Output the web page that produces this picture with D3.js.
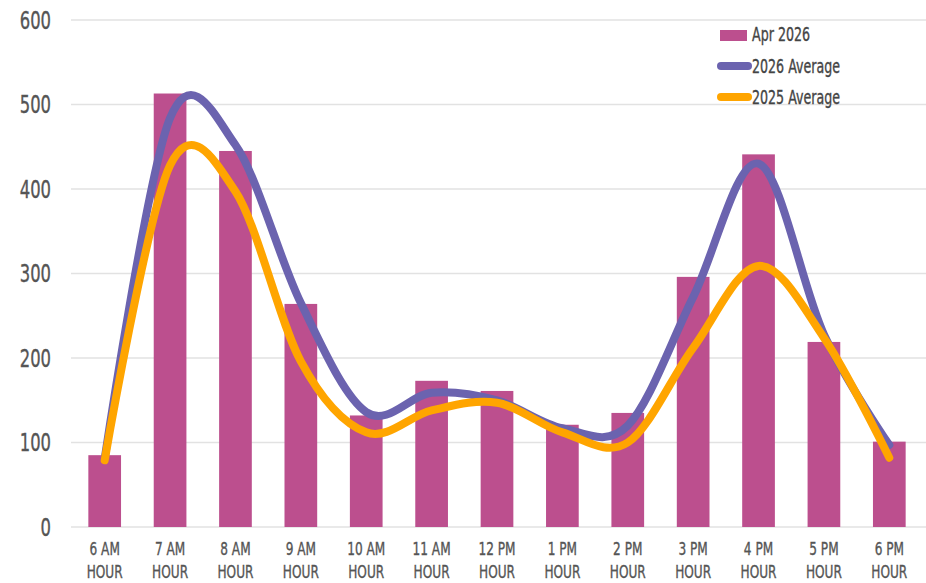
<!DOCTYPE html>
<html><head><meta charset="utf-8">
<script src="https://cdn.jsdelivr.net/npm/d3@7"></script>
<style>
html,body{margin:0;padding:0;background:#fff;}
text{font-family:"DejaVu Sans Condensed","Liberation Sans Narrow",sans-serif;fill:#555;stroke:#555;stroke-width:0.35px;}
</style></head>
<body>
<svg id="chart" width="926" height="583"></svg>
<script>
const categories = ["6 AM","7 AM","8 AM","9 AM","10 AM","11 AM","12 PM","1 PM","2 PM","3 PM","4 PM","5 PM","6 PM"];
const apr2026 = [85,513,445,264,132,173,161,121,135,296,441,219,101];
const avg2026 = [81,484,452,265,136,159,150,117,120,272,430,228,97];
const avg2025 = [79,428,397,196,112,138,147,112,100,212,309,224,82];
const yTicks = [0,100,200,300,400,500,600];
const seriesNames = ["Apr 2026","2026 Average","2025 Average"];
const colors = {bar:"#BC4F8E", purple:"#6B63AF", orange:"#FFA500"};

const svg = d3.select("#chart");
const x = d3.scaleBand().domain(categories).range([72,922]).paddingInner(0.5).paddingOuter(0.25);
const y = d3.scaleLinear().domain([0,600]).range([527,20]);

// gridlines
svg.append("g").selectAll("line").data(yTicks).join("line")
  .attr("x1",71).attr("x2",926)
  .attr("y1",d=>y(d)).attr("y2",d=>y(d))
  .attr("stroke","#e2e2e2").attr("stroke-width",1.5);

// y labels
svg.append("g").selectAll("text").data(yTicks).join("text")
  .attr("transform",d=>`translate(51,${y(d)}) scale(0.76,1)`)
  .attr("dy","0.36em")
  .attr("text-anchor","end").attr("font-size",24)
  .text(d=>d);

// bars
svg.append("g").selectAll("rect").data(apr2026).join("rect")
  .attr("x",(d,i)=>x(categories[i])).attr("width",x.bandwidth())
  .attr("y",d=>y(d)).attr("height",d=>y(0)-y(d))
  .attr("fill",colors.bar);

// lines
const cx = c => x(c)+x.bandwidth()/2;
const line = d3.line().x((d,i)=>cx(categories[i])).y(d=>y(d)).curve(d3.curveCardinal.tension(0));
svg.append("path").datum(avg2026).attr("d",line).attr("fill","none")
  .attr("stroke",colors.purple).attr("stroke-width",8).attr("stroke-linecap","round").attr("stroke-linejoin","round");
svg.append("path").datum(avg2025).attr("d",line).attr("fill","none")
  .attr("stroke",colors.orange).attr("stroke-width",8).attr("stroke-linecap","round").attr("stroke-linejoin","round");

// x labels
const xl = svg.append("g").selectAll("text").data(categories).join("text")
  .attr("text-anchor","middle").attr("font-size",18)
  .attr("transform",d=>`translate(${cx(d)},0) scale(0.75,1)`);
xl.append("tspan").attr("x",0).attr("y",555).text(d=>d);
xl.append("tspan").attr("x",0).attr("y",578).text("HOUR");

// legend
const lg = svg.append("g");
lg.append("rect").attr("x",720).attr("y",30).attr("width",27).attr("height",11).attr("fill",colors.bar);
lg.append("line").attr("x1",721).attr("x2",748).attr("y1",66).attr("y2",66)
  .attr("stroke",colors.purple).attr("stroke-width",8).attr("stroke-linecap","round");
lg.append("line").attr("x1",721).attr("x2",748).attr("y1",97).attr("y2",97)
  .attr("stroke",colors.orange).attr("stroke-width",8).attr("stroke-linecap","round");
[[752,34],[752,66],[752,97]].forEach((p,i)=>{
  lg.append("text").attr("transform",`translate(${p[0]},${p[1]}) scale(0.74,1)`)
    .attr("dy","0.36em").attr("font-size",19).style("fill","#444").style("stroke","#444").text(seriesNames[i]);
});
</script>
</body></html>
